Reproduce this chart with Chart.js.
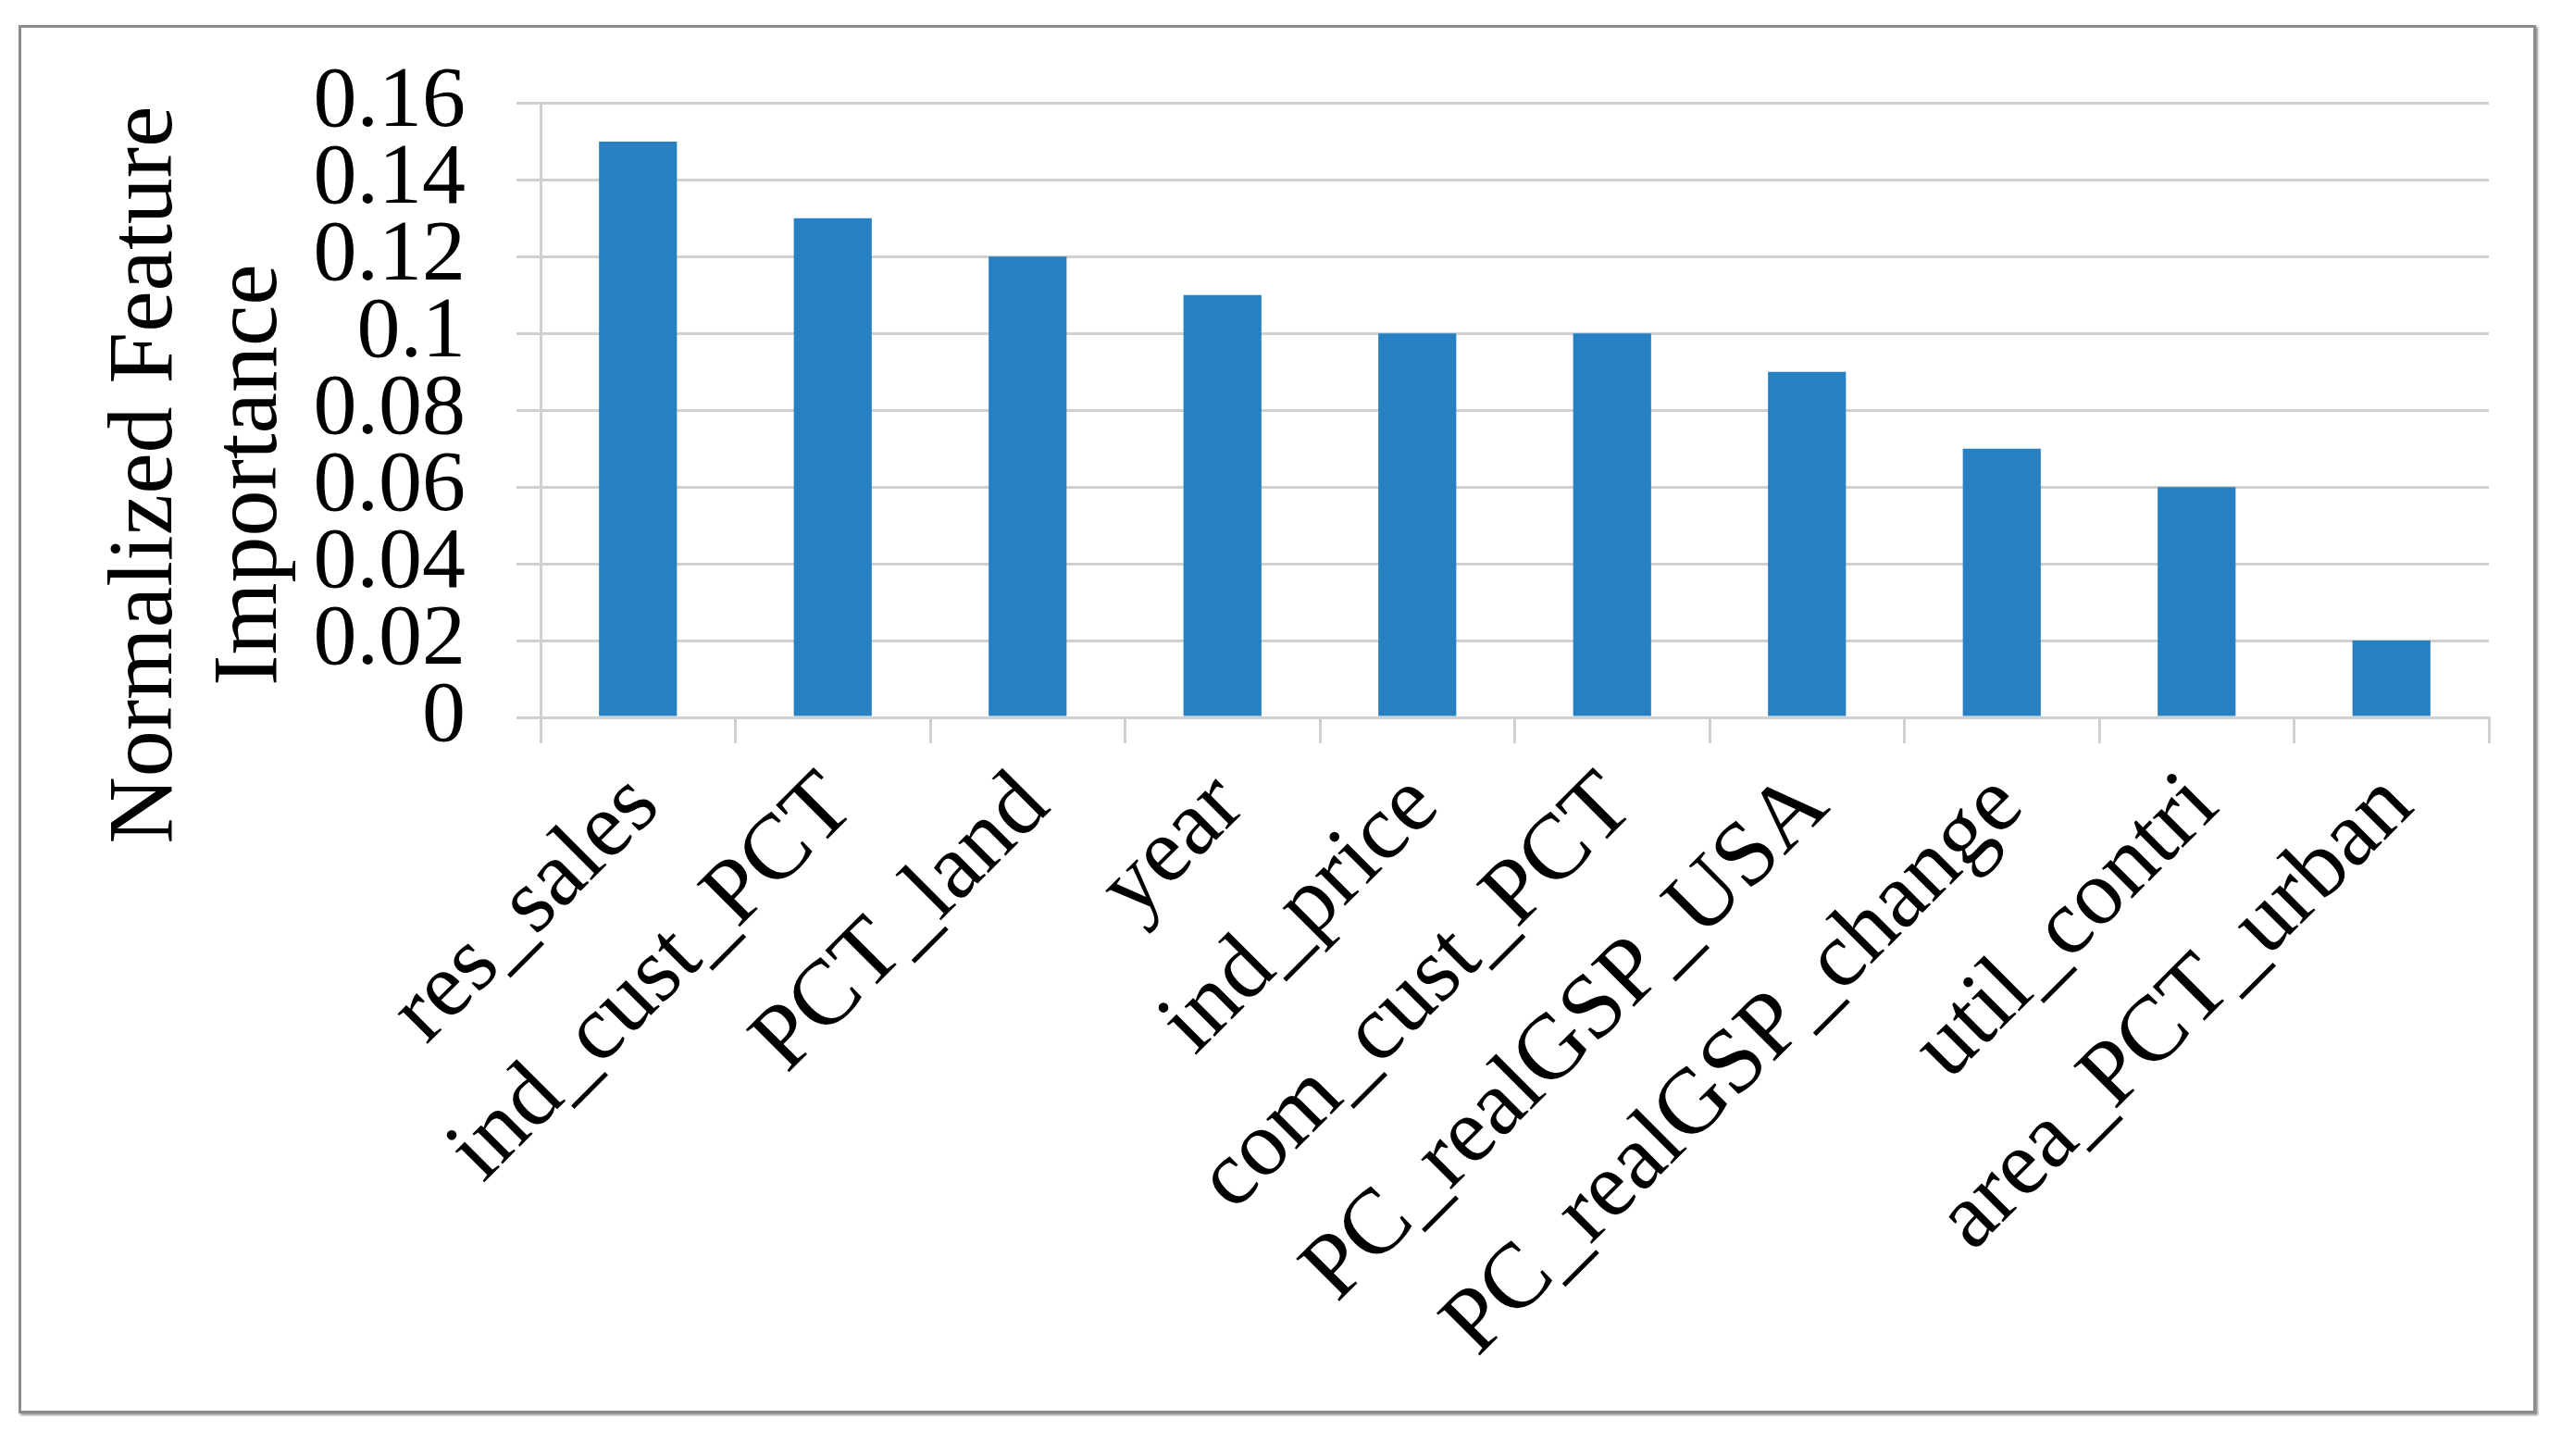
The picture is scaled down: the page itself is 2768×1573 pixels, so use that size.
<!DOCTYPE html>
<html>
<head>
<meta charset="utf-8">
<script src="https://cdn.jsdelivr.net/npm/chart.js@4"></script>
<style>
  html, body { margin: 0; padding: 0; background: #fff; }
  #frame {
    position: absolute; left: 20px; top: 27px; width: 2720px; height: 1500px;
    border: 3px solid #8c8c8c; box-sizing: border-box;
    box-shadow: 2px 2px 2px #9a9a9a; pointer-events: none;
  }
  canvas { position: absolute; left: 0; top: 0; }
</style>
</head>
<body>
<canvas id="myChart" width="2768" height="1573"></canvas>
<div id="frame"></div>
<script>
const features = [
  'res_sales', 'ind_cust_PCT', 'PCT_land', 'year', 'ind_price',
  'com_cust_PCT', 'PC_realGSP_USA', 'PC_realGSP_change', 'util_contri', 'area_PCT_urban'
];
const importance = [0.15, 0.13, 0.12, 0.11, 0.10, 0.10, 0.09, 0.07, 0.06, 0.02];
const yTickLabels = ['0', '0.02', '0.04', '0.06', '0.08', '0.1', '0.12', '0.14', '0.16'];
const yTitle = ['Normalized Feature', 'Importance'];

const serif = "'Liberation Serif', 'Times New Roman', serif";
const gridGray = '#d0d0d0';

// y axis title drawn by hand so it sits where Excel put it
const axisTitle = {
  id: 'axisTitle',
  afterDraw(chart) {
    const ctx = chart.ctx;
    ctx.save();
    ctx.fillStyle = '#000';
    ctx.font = '100px ' + serif;
    ctx.textAlign = 'center';
    ctx.textBaseline = 'alphabetic';
    [185, 298].forEach((x, i) => {
      ctx.save();
      ctx.translate(x, 513);
      ctx.rotate(-Math.PI / 2);
      ctx.fillText(yTitle[i], 0, 0);
      ctx.restore();
    });
    ctx.restore();
  }
};

const ctx = document.getElementById('myChart').getContext('2d');
new Chart(ctx, {
  type: 'bar',
  data: {
    labels: features,
    datasets: [{
      data: importance,
      backgroundColor: '#2680c2',
      borderWidth: 0,
      barPercentage: 0.4,
      categoryPercentage: 1.0
    }]
  },
  options: {
    responsive: false,
    animation: false,
    devicePixelRatio: 1,
    layout: { padding: { top: 108, right: 79, left: 0, bottom: 0 } },
    plugins: {
      legend: { display: false },
      tooltip: { enabled: false }
    },
    scales: {
      x: {
        afterFit(scale) { scale.height = 798; },
        grid: {
          offset: true,
          drawOnChartArea: false,
          color: gridGray,
          lineWidth: 3,
          tickLength: 28
        },
        border: { color: gridGray, width: 3 },
        ticks: {
          maxRotation: 45,
          minRotation: 45,
          autoSkip: false,
          padding: 10,
          labelOffset: 8,
          color: '#000',
          font: { family: serif, size: 100 }
        }
      },
      y: {
        min: 0,
        max: 0.16,
        afterFit(scale) { scale.width = 584; },
        grid: { color: gridGray, lineWidth: 3, tickLength: 26 },
        border: { color: gridGray, width: 3 },
        ticks: {
          stepSize: 0.02,
          autoSkip: false,
          padding: 55,
          color: '#000',
          font: { family: serif, size: 94 },
          callback: (v, i) => yTickLabels[i]
        }
      }
    }
  },
  plugins: [axisTitle]
});
</script>
</body>
</html>
